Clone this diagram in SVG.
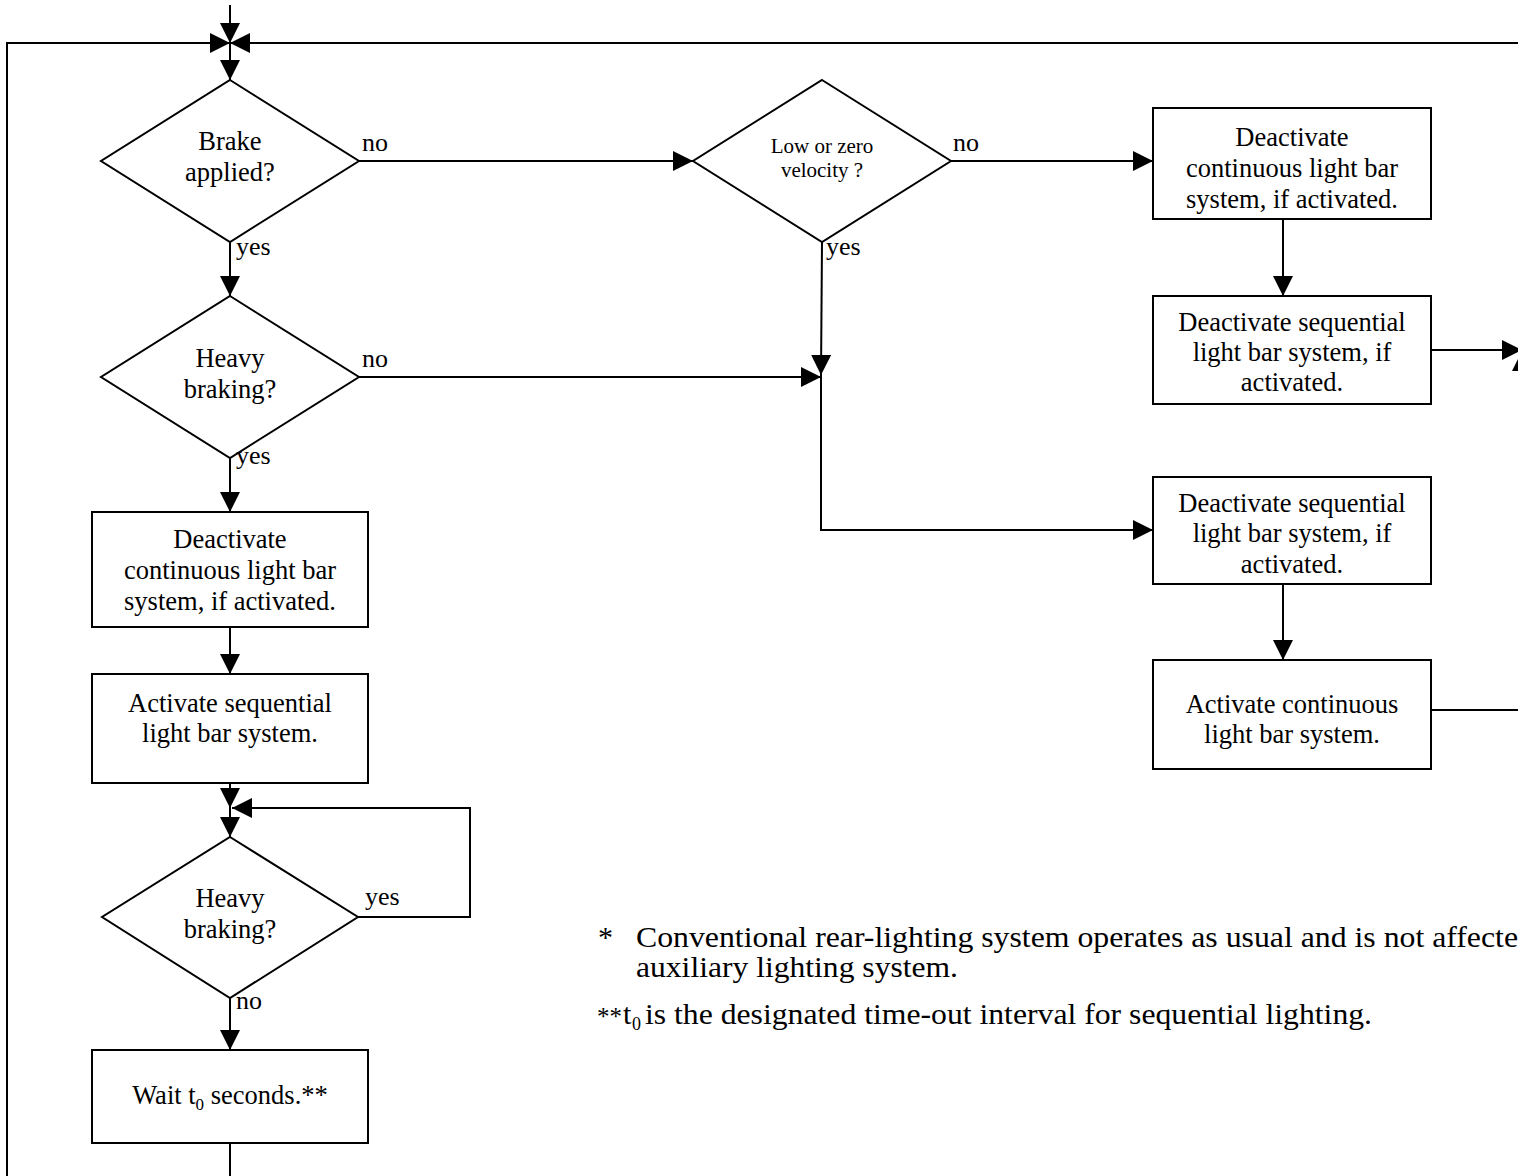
<svg xmlns="http://www.w3.org/2000/svg" width="1518" height="1176" viewBox="0 0 1518 1176">
<style>
.shape{fill:#fff;stroke:#000;stroke-width:2}
.ln{fill:none;stroke:#000;stroke-width:2}
.ar{fill:none;stroke:#000;stroke-width:2;marker-end:url(#ah)}
text{font-family:"Liberation Serif","Times New Roman",serif;fill:#000}
.t{font-size:26.5px;text-anchor:middle}
.s{font-size:21px;text-anchor:middle}
.lb{font-size:26px}
.fn{font-size:30px}
</style>
<defs>
<marker id="ah" markerUnits="userSpaceOnUse" markerWidth="20" markerHeight="20" refX="20" refY="10" orient="auto">
<path d="M0,0 L20,10 L0,20 z" fill="#000"/>
</marker>
</defs>
<rect width="1518" height="1176" fill="#fff"/>
<g id="connectors">
<path class="ar" d="M230,5 L230,43"/>
<path class="ar" d="M7,1176 L7,43 L230,43"/>
<path class="ar" d="M1522,350 L1522,43 L230,43"/>
<path class="ar" d="M230,43 L230,80"/>
<path class="ar" d="M359,161 L693,161"/>
<path class="ar" d="M230,242 L230,296"/>
<path class="ar" d="M951,161 L1153,161"/>
<path class="ar" d="M822,242 L821,375"/>
<path class="ar" d="M359,377 L821,377"/>
<path class="ar" d="M821,375 L821,530 L1153,530"/>
<path class="ar" d="M1283,219 L1283,296"/>
<path class="ar" d="M1431,350 L1522,350"/>
<path class="ar" d="M1283,584 L1283,660"/>
<path class="ar" d="M1431,710 L1522,710 L1522,351"/>
<path class="ar" d="M230,458 L230,512"/>
<path class="ar" d="M230,627 L230,674"/>
<path class="ar" d="M230,783 L230,808"/>
<path class="ar" d="M230,808 L230,837"/>
<path class="ar" d="M358,917 L470,917 L470,808 L232,808"/>
<path class="ar" d="M230,998 L230,1050"/>
<path class="ln" d="M230,1143 L230,1176"/>
</g>
<g id="brake">
<polygon class="shape" points="230,80 359,161 230,242 101,161"/>
<text class="t" x="230" y="150">Brake</text>
<text class="t" x="230" y="181">applied?</text>
<text class="lb" x="362" y="151">no</text>
<text class="lb" x="236" y="255">yes</text>
</g>
<g id="velocity">
<polygon class="shape" points="822,80 951,161 822,242 693,161"/>
<text class="s" x="822" y="153">Low or zero</text>
<text class="s" x="822" y="177">velocity ?</text>
<text class="lb" x="953" y="151">no</text>
<text class="lb" x="826" y="255">yes</text>
</g>
<g id="heavy1">
<polygon class="shape" points="230,296 359,377 230,458 101,377"/>
<text class="t" x="230" y="367">Heavy</text>
<text class="t" x="230" y="398">braking?</text>
<text class="lb" x="362" y="367">no</text>
<text class="lb" x="236" y="464">yes</text>
</g>
<g id="deact-cont-left">
<rect class="shape" x="92" y="512" width="276" height="115"/>
<text class="t" x="230" y="548">Deactivate</text>
<text class="t" x="230" y="579">continuous light bar</text>
<text class="t" x="230" y="610">system, if activated.</text>
</g>
<g id="act-seq">
<rect class="shape" x="92" y="674" width="276" height="109"/>
<text class="t" x="230" y="712">Activate sequential</text>
<text class="t" x="230" y="742">light bar system.</text>
</g>
<g id="heavy2">
<polygon class="shape" points="230,837 358,917 230,998 102,917"/>
<text class="t" x="230" y="907">Heavy</text>
<text class="t" x="230" y="938">braking?</text>
<text class="lb" x="365" y="905">yes</text>
<text class="lb" x="236" y="1009">no</text>
</g>
<g id="wait">
<rect class="shape" x="92" y="1050" width="276" height="93"/>
<text class="t" x="230" y="1104">Wait t<tspan font-size="17" dy="6">0</tspan><tspan dy="-6"> seconds.**</tspan></text>
</g>
<g id="deact-cont-right">
<rect class="shape" x="1153" y="108" width="278" height="111"/>
<text class="t" x="1292" y="146">Deactivate</text>
<text class="t" x="1292" y="177">continuous light bar</text>
<text class="t" x="1292" y="208">system, if activated.</text>
</g>
<g id="deact-seq-1">
<rect class="shape" x="1153" y="296" width="278" height="108"/>
<text class="t" x="1292" y="331">Deactivate sequential</text>
<text class="t" x="1292" y="361">light bar system, if</text>
<text class="t" x="1292" y="391">activated.</text>
</g>
<g id="deact-seq-2">
<rect class="shape" x="1153" y="477" width="278" height="107"/>
<text class="t" x="1292" y="512">Deactivate sequential</text>
<text class="t" x="1292" y="542">light bar system, if</text>
<text class="t" x="1292" y="573">activated.</text>
</g>
<g id="act-cont">
<rect class="shape" x="1153" y="660" width="278" height="109"/>
<text class="t" x="1292" y="713">Activate continuous</text>
<text class="t" x="1292" y="743">light bar system.</text>
</g>
<g id="notes">
<text class="fn" x="598" y="947">*</text>
<text class="fn" x="636" y="947" textLength="882" lengthAdjust="spacingAndGlyphs">Conventional rear-lighting system operates as usual and is not affecte</text>
<text class="fn" x="636" y="977" textLength="322" lengthAdjust="spacingAndGlyphs">auxiliary lighting system.</text>
<text x="597" y="1025" font-size="25">**</text>
<text class="fn" x="623" y="1024">t</text>
<text x="632" y="1030" font-size="18">0</text>
<text class="fn" x="645" y="1024" textLength="727" lengthAdjust="spacingAndGlyphs">is the designated time-out interval for sequential lighting.</text>
</g>
</svg>
